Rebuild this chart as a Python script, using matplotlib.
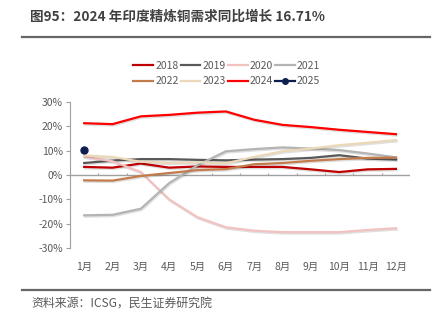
import matplotlib
matplotlib.use("Agg")
import matplotlib.pyplot as plt
import matplotlib.patheffects as pe
from matplotlib.lines import Line2D

plt.rcParams["font.family"] = ["Noto Sans CJK SC", "DejaVu Sans"]

MONTHS = ["1月", "2月", "3月", "4月", "5月", "6月", "7月", "8月", "9月", "10月", "11月", "12月"]
YEARS = ["2018", "2019", "2020", "2021", "2022", "2023", "2024", "2025"]

# yoy growth, %
Y2018 = [3.3, 3.0, 4.7, 3.0, 3.5, 3.3, 3.3, 3.3, 2.3, 1.2, 2.3, 2.5]
Y2019 = [4.9, 5.9, 6.5, 6.5, 6.2, 6.0, 6.3, 6.5, 7.0, 8.1, 6.7, 6.3]
Y2020 = [7.5, 5.6, 1.2, -10.0, -17.3, -21.4, -22.8, -23.4, -23.4, -23.4, -22.5, -21.8]
Y2021 = [-16.5, -16.3, -13.8, -3.3, 4.0, 9.7, 10.6, 11.3, 10.8, 10.2, 8.8, 7.2]
Y2022 = [-2.2, -2.3, -0.4, 0.8, 2.0, 2.4, 4.4, 4.9, 5.8, 6.5, 7.0, 7.1]
Y2023 = [8.0, 7.4, 5.4, 5.0, 5.2, 4.8, 7.4, 9.7, 10.8, 12.2, 13.2, 14.3]
Y2024 = [21.2, 20.8, 24.0, 24.6, 25.5, 26.0, 22.6, 20.5, 19.6, 18.5, 17.6, 16.7]
Y2025 = [10.1]

COLORS = ["#C00000", "#595959", "#F2C2C0", "#B4B4B4", "#C27B4A", "#EAD8B8", "#FF0000", "#0E1E50"]
SERIES = [Y2018, Y2019, Y2020, Y2021, Y2022, Y2023, Y2024, Y2025]

GRAY = "#595959"


def main():
    fig = plt.figure(figsize=(4.36, 3.28), dpi=100)
    ax = fig.add_axes([0.1606, 0.243, 0.78, 0.447])

    shadow = [pe.SimpleLineShadow(offset=(0.6, -1.0), alpha=0.12, shadow_color="black"), pe.Normal()]
    handles = []
    for year, vals, color in zip(YEARS, SERIES, COLORS):
        x = list(range(len(vals)))
        if year == "2025":
            ax.plot(x, vals, color=color, lw=1.6, marker="o", ms=5, zorder=5)
            handles.append(Line2D([], [], color=color, lw=1.6, marker="o", ms=4))
        else:
            ax.plot(x, vals, color=color, lw=1.6, path_effects=shadow, zorder=3)
            handles.append(Line2D([], [], color=color, lw=1.6))

    ax.set_xlim(-0.5, 11.5)
    ax.set_ylim(-30, 30)
    ax.set_yticks(range(-30, 31, 10))
    ax.set_yticklabels([f"{v}%" for v in range(-30, 31, 10)])

    # category labels sit at the bottom, axis line sits at zero
    ax.set_xticks(range(12))
    ax.set_xticklabels(MONTHS)
    ax.tick_params(axis="x", length=0, pad=10, labelsize=7.5, labelcolor=GRAY)
    ax.tick_params(axis="y", length=3, width=0.8, color="#A0A0A0", labelsize=7.5, labelcolor=GRAY, pad=2)
    for side in ("top", "right", "bottom"):
        ax.spines[side].set_visible(False)
    ax.spines["left"].set_color("#A0A0A0")
    ax.spines["left"].set_linewidth(0.8)

    ax.axhline(0, color="#A0A0A0", lw=1, zorder=1)
    ax.vlines([i + 0.5 for i in range(-1, 12)], 0, 1.0, color="#A0A0A0", lw=0.8, zorder=1)

    # legend fills column-wise; reorder so rows read 2018-2021 / 2022-2025
    order = [0, 4, 1, 5, 2, 6, 3, 7]
    leg = fig.legend([handles[i] for i in order], [YEARS[i] for i in order],
                     loc="center", bbox_to_anchor=(0.52, 0.776), ncol=4,
                     frameon=False, fontsize=7.5, handlelength=1.9, handletextpad=0.2,
                     columnspacing=0.2, labelspacing=0.55, borderpad=0)
    for t in leg.get_texts():
        t.set_color(GRAY)

    fig.text(0.069, 0.948, "图95：2024 年印度精炼铜需求同比增长 16.71%", fontsize=9.8,
             fontweight="bold", color="#404040", va="center", ha="left")
    fig.add_artist(Line2D([0.05, 0.986], [0.888, 0.888], color="#666666", lw=1.6))
    fig.add_artist(Line2D([0.05, 0.986], [0.116, 0.116], color="#666666", lw=1.6))
    fig.text(0.073, 0.077, "资料来源：ICSG，民生证券研究院", fontsize=8.6, color=GRAY,
             va="center", ha="left")

    fig.savefig("out.png", dpi=100)


if __name__ == "__main__":
    main()
